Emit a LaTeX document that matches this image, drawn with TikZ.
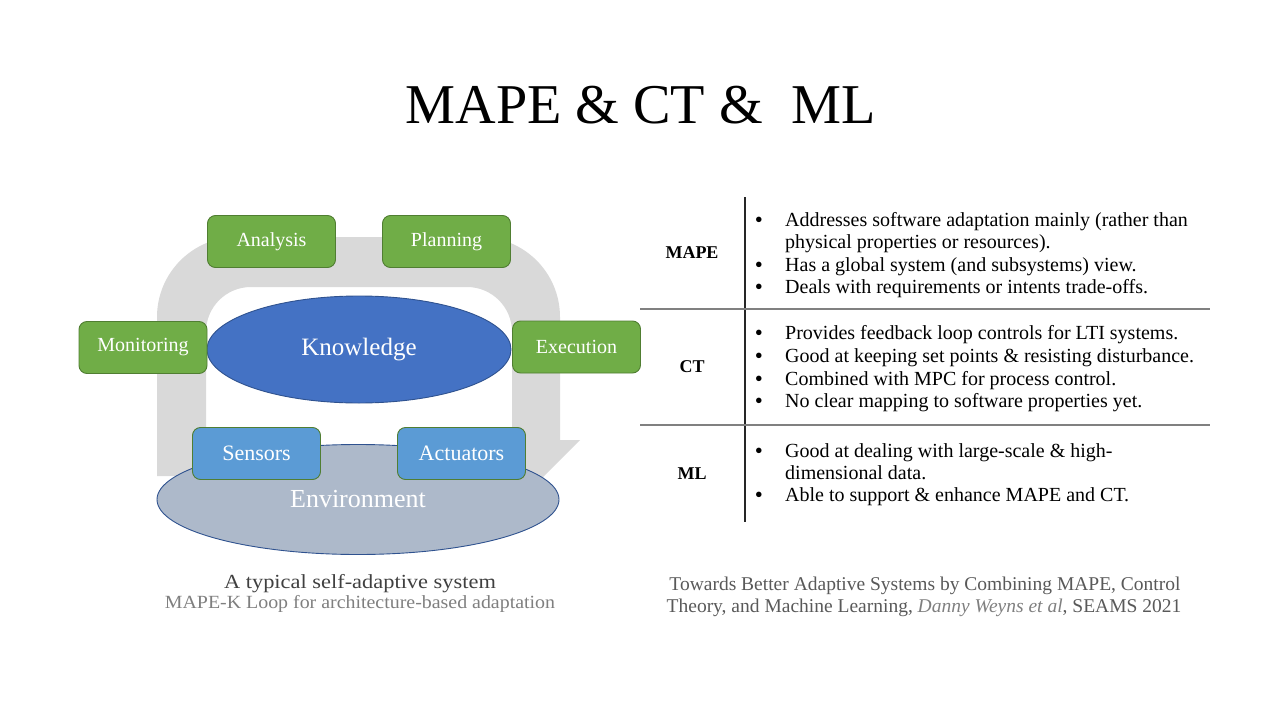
\documentclass[tikz,border=0pt]{standalone}
\usepackage{fontspec}
\setmainfont{Liberation Serif}
\usetikzlibrary{shapes.geometric}
\definecolor{loopgrey}{HTML}{D9D9D9}
\definecolor{mapegreen}{HTML}{70AD47}
\definecolor{boxedge}{HTML}{507E32}
\definecolor{ioblue}{HTML}{5B9BD5}
\definecolor{kblue}{HTML}{4472C4}
\definecolor{kedge}{HTML}{2F528F}
\definecolor{envfill}{HTML}{ADB9CA}
\definecolor{capdark}{HTML}{404040}
\definecolor{capmid}{HTML}{595959}
\definecolor{caplight}{HTML}{7F7F7F}
\definecolor{rulegrey}{HTML}{808080}
\tikzset{
  phasebox/.style={draw=boxedge, line width=0.9pt, fill=mapegreen, rounded corners=8pt,
    minimum width=128pt, minimum height=52pt, inner sep=0pt, text=white,
    font=\fontsize{20}{24}\selectfont},
  iobox/.style={phasebox, fill=ioblue, font=\fontsize{22}{26}\selectfont},
  kellipse/.style={ellipse, draw=kedge, line width=0.9pt, fill=kblue, inner sep=0pt,
    text=white, font=\fontsize{25}{30}\selectfont},
  rowlabel/.style={font=\fontsize{18}{22}\selectfont\bfseries},
  itemtext/.style={anchor=base west, inner sep=0pt, font=\fontsize{20}{24}\selectfont},
  bulletmark/.style={anchor=base, inner sep=0pt, font=\fontsize{23}{26}\selectfont},
}
\newcommand{\bulletline}[3]{%
  \node[bulletmark] (#1b) at (759,#2+1.3) {•};
  \node[itemtext] (#1) at (785,#2) {#3};}
\newcommand{\plainline}[3]{%
  \node[itemtext] (#1) at (785,#2) {#3};}
\begin{document}
\begin{tikzpicture}[x=1pt, y=-1pt]
\useasboundingbox (0,0) rectangle (1280,720);

% title
\node[anchor=base, inner sep=0pt, font=\fontsize{56.2}{64}\selectfont] (title) at (640.5,123)
  {MAPE \& CT \&\ \ ML};

% grey MAPE-K loop arrow
\fill[loopgrey] (157,476) -- (157,317)
  .. controls (157,272.8) and (192.8,237) .. (237,237) -- (480,237)
  .. controls (524.2,237) and (560,272.8) .. (560,317) -- (560,440)
  -- (580,440) -- (536,484) -- (492,440) -- (512,440) -- (512,332)
  .. controls (512,307.1) and (491.9,287) .. (467,287) -- (251,287)
  .. controls (226.1,287) and (206,307.1) .. (206,332) -- (206,476) -- cycle;

% knowledge and environment
\node[kellipse, minimum width=304pt, minimum height=107pt] (know) at (359,349.5) {Knowledge};
\node[kellipse, fill=envfill, minimum width=402pt, minimum height=110pt,
  font=\fontsize{26}{30}\selectfont] (env) at (358,499.5) {Environment};

% MAPE phases
\node[phasebox] (ana) at (271.5,241.5) {Analysis};
\node[phasebox] (pla) at (446.5,241.5) {Planning};
\node[phasebox] (mon) at (143,347.5) {Monitoring};
\node[phasebox] (exe) at (576.5,347) {Execution};
\node[iobox] (sen) at (256.5,453.5) {Sensors};
\node[iobox] (act) at (461.5,453.5) {Actuators};

% left captions
\node[anchor=base, inner sep=0pt, text=capdark,
  font=\fontsize{20}{24}\selectfont\addfontfeature{FakeStretch=1.12}] (cap1) at (360,588)
  {A typical self-adaptive system};
\node[anchor=base, inner sep=0pt, text=caplight,
  font=\fontsize{18.6}{22}\selectfont\addfontfeature{FakeStretch=1.07}] (cap2) at (360,608)
  {MAPE-K Loop for architecture-based adaptation};

% comparison table rules
\coordinate (vtop) at (745,197);
\coordinate (vbot) at (745,522);
\coordinate (r1l) at (640,309);
\coordinate (r1r) at (1210,309);
\coordinate (r2l) at (640,425);
\coordinate (r2r) at (1210,425);
\draw[line width=1.1pt, black!85] (vtop) -- (vbot);
\draw[line width=1.6pt, rulegrey] (r1l) -- (r1r);
\draw[line width=1.6pt, rulegrey] (r2l) -- (r2r);

% row labels
\node[rowlabel] (lmape) at (692,253) {MAPE};
\node[rowlabel] (lct) at (692,367) {CT};
\node[rowlabel] (lml) at (692,474) {ML};

% MAPE row
\bulletline{ma}{226}{Addresses software adaptation mainly (rather than}
\plainline{mb}{248}{physical properties or resources).}
\bulletline{mc}{271}{Has a global system (and subsystems) view.}
\bulletline{md}{293}{Deals with requirements or intents trade-offs.}
% CT row
\bulletline{ca}{339}{Provides feedback loop controls for LTI systems.}
\bulletline{cb}{362}{Good at keeping set points \& resisting disturbance.}
\bulletline{cc}{385}{Combined with MPC for process control.}
\bulletline{cd}{407}{No clear mapping to software properties yet.}
% ML row
\bulletline{la}{457}{Good at dealing with large-scale \& high-}
\plainline{lb}{479}{dimensional data.}
\bulletline{lc}{501}{Able to support \& enhance MAPE and CT.}

% reference caption
\node[anchor=base, inner sep=0pt, text=capmid, font=\fontsize{19.5}{23}\selectfont] (ref1) at (925,590)
  {Towards Better Adaptive Systems by Combining MAPE, Control};
\node[anchor=base, inner sep=0pt, text=capmid, font=\fontsize{19.5}{23}\selectfont] (ref2) at (924,612)
  {Theory, and Machine Learning, {\color{caplight}\itshape Danny Weyns et al}, SEAMS 2021};
\end{tikzpicture}
\end{document}
